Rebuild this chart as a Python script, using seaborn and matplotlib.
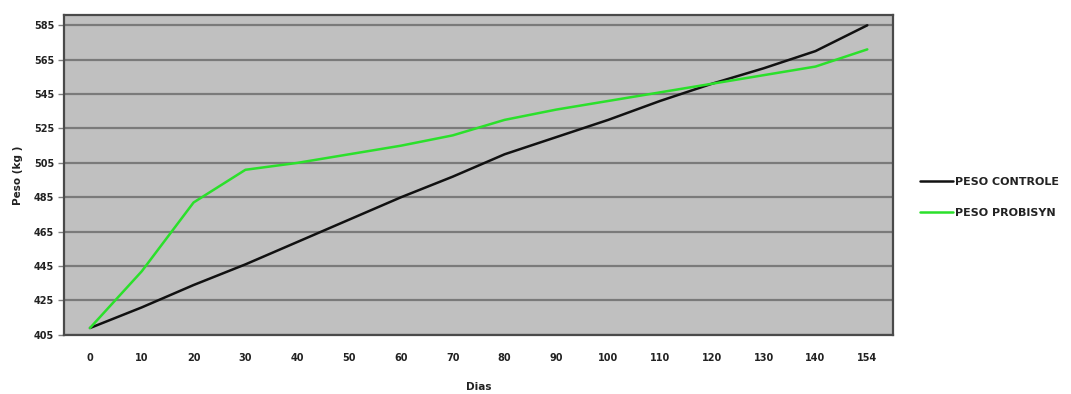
import pandas as pd
import seaborn as sns
import matplotlib.pyplot as plt

# Dias de avaliacao e pesos medios (kg)
dias = ["0", "10", "20", "30", "40", "50", "60", "70", "80",
        "90", "100", "110", "120", "130", "140", "154"]
peso_controle = [409, 421, 434, 446, 459, 472, 485, 497, 510,
                 520, 530, 541, 551, 560, 570, 585]
peso_probisyn = [409, 442, 482, 501, 505, 510, 515, 521, 530,
                 536, 541, 546, 551, 556, 561, 571]
y_ticks = list(range(405, 586, 20))

series = ["PESO CONTROLE", "PESO PROBISYN"]


def build_frame():
    rows = []
    for nome, valores in zip(series, [peso_controle, peso_probisyn]):
        for d, v in zip(dias, valores):
            rows.append({"Dias": d, "Peso": v, "Serie": nome})
    return pd.DataFrame(rows)


def main():
    df = build_frame()
    sns.set_style("white")
    plt.rcParams["font.family"] = ["DejaVu Sans"]
    fs = 7

    fig = plt.figure(figsize=(10.71, 3.94), dpi=100)
    ax = fig.add_axes([0.0598, 0.150, 0.7742, 0.812])
    ax.set_facecolor("#c0c0c0")

    sns.lineplot(data=df, x="Dias", y="Peso", hue="Serie", sort=False,
                 palette=["#111111", "#2be02b"], linewidth=1.8, ax=ax)

    ax.set_ylim(405, 591)
    ax.set_xlim(-0.5, len(dias) - 0.5)
    ax.set_yticks(y_ticks)
    ax.set_yticklabels([str(t) for t in y_ticks], fontsize=fs, fontweight="bold", color="#222222")
    ax.set_xticks(range(len(dias)))
    ax.set_xticklabels(dias, fontsize=fs, fontweight="bold", color="#222222")
    for t in y_ticks:
        ax.axhline(t, color="#7a7a7a", linewidth=1.6, zorder=0)

    ax.tick_params(axis="y", length=4, width=1, color="#808080", pad=3, direction="out", left=True)
    ax.tick_params(axis="x", length=0, pad=13)
    for sp in ax.spines.values():
        sp.set_color("#4a4a4a")
        sp.set_linewidth(1.6)

    ax.set_xlabel("Dias", fontsize=7.5, fontweight="bold", labelpad=14, color="#222222")
    ax.set_ylabel("Peso (kg )", fontsize=7.5, fontweight="bold", labelpad=8, color="#222222")

    leg = ax.legend(loc="center left", bbox_to_anchor=(1.02, 0.43), frameon=False,
                    handlelength=3.0, handletextpad=0.2, labelspacing=1.9,
                    prop={"weight": "bold", "size": 8})
    for line in leg.get_lines():
        line.set_linewidth(1.8)
    for txt in leg.get_texts():
        txt.set_color("#222222")

    fig.savefig("out.png", dpi=100)


if __name__ == "__main__":
    main()
